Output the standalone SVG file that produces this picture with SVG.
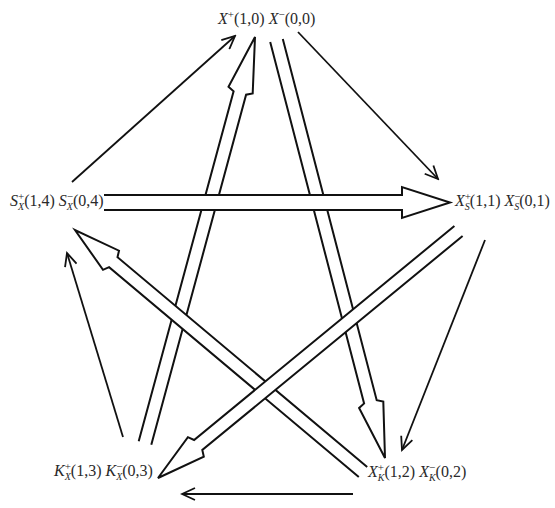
<svg xmlns="http://www.w3.org/2000/svg" width="555" height="508" viewBox="0 0 555 508">
<defs>
<style>
text{font-family:"Liberation Serif","Times New Roman",serif;font-size:16px;fill:#2a2a2a}
.i{font-style:italic}
.sup{font-size:11px}
.sub{font-size:10px;font-style:italic}
.wide{fill:#fff;stroke:#111;stroke-width:2;stroke-linejoin:miter}
.thin{fill:none;stroke:#111;stroke-width:1.8}
</style>
<marker id="ah" markerUnits="userSpaceOnUse" markerWidth="16" markerHeight="14" refX="14" refY="7" orient="auto">
<path d="M1,1 L14,7 L1,13" fill="none" stroke="#111" stroke-width="1.8"/>
</marker>
</defs>
<rect width="555" height="508" fill="#fff"/>
<g id="connectors">
<path class="thin" d="M72,182 L235,36" marker-end="url(#ah)"/>
<path class="thin" d="M298,32 L438,179" marker-end="url(#ah)"/>
<path class="thin" d="M485,240 L402,450" marker-end="url(#ah)"/>
<path class="thin" d="M353,494 L182,494" marker-end="url(#ah)"/>
<path class="thin" d="M123,437 L67,253" marker-end="url(#ah)"/>
<path class="wide" d="M138.7,441.3 L233.6,91.3 L228.5,86.8 L255,37 L252.7,93.4 L246.1,94.7 L151.3,444.7"/>
<path class="wide" d="M270.2,42.1 L364.1,403.5 L359.1,407.9 L385,458 L383.3,401.6 L376.7,400.2 L282.8,38.9"/>
<path class="wide" d="M367.2,467 L117.5,257.2 L119,250.7 L75,230 L103,269.8 L109.1,267.2 L358.8,477"/>
<path class="wide" d="M104,195 L402,195 L402,187 L450,202.5 L402,218 L402,210 L104,210"/>
<path class="wide" d="M454.4,226 L194.1,440 L187.9,437.2 L158,478 L203.8,456.6 L202.3,450 L462.6,236"/>
</g>
<g id="node-X">
<text x="218" y="24"><tspan class="i">X</tspan><tspan class="sup" dy="-6">+</tspan><tspan dy="6">(1,0) </tspan><tspan class="i">X</tspan><tspan class="sup" dy="-6">−</tspan><tspan dy="6">(0,0)</tspan></text>
</g>
<g id="node-SX">
<text x="10" y="206"><tspan class="i">S</tspan><tspan class="sup" dy="-6">+</tspan><tspan class="sub" dx="-6.2" dy="10">X</tspan><tspan dy="-4">(1,4) </tspan><tspan class="i">S</tspan><tspan class="sup" dy="-6">−</tspan><tspan class="sub" dx="-6.2" dy="10">X</tspan><tspan dy="-4">(0,4)</tspan></text>
</g>
<g id="node-XS">
<text x="455" y="206"><tspan class="i">X</tspan><tspan class="sup" dy="-6">+</tspan><tspan class="sub" dx="-6.2" dy="10">S</tspan><tspan dy="-4">(1,1) </tspan><tspan class="i">X</tspan><tspan class="sup" dy="-6">−</tspan><tspan class="sub" dx="-6.2" dy="10">S</tspan><tspan dy="-4">(0,1)</tspan></text>
</g>
<g id="node-XK">
<text x="368" y="477"><tspan class="i">X</tspan><tspan class="sup" dy="-6">+</tspan><tspan class="sub" dx="-6.2" dy="10">K</tspan><tspan dy="-4">(1,2) </tspan><tspan class="i">X</tspan><tspan class="sup" dy="-6">−</tspan><tspan class="sub" dx="-6.2" dy="10">K</tspan><tspan dy="-4">(0,2)</tspan></text>
</g>
<g id="node-KX">
<text x="54" y="476"><tspan class="i">K</tspan><tspan class="sup" dy="-6">+</tspan><tspan class="sub" dx="-6.2" dy="10">X</tspan><tspan dy="-4">(1,3) </tspan><tspan class="i">K</tspan><tspan class="sup" dy="-6">−</tspan><tspan class="sub" dx="-6.2" dy="10">X</tspan><tspan dy="-4">(0,3)</tspan></text>
</g>
</svg>
